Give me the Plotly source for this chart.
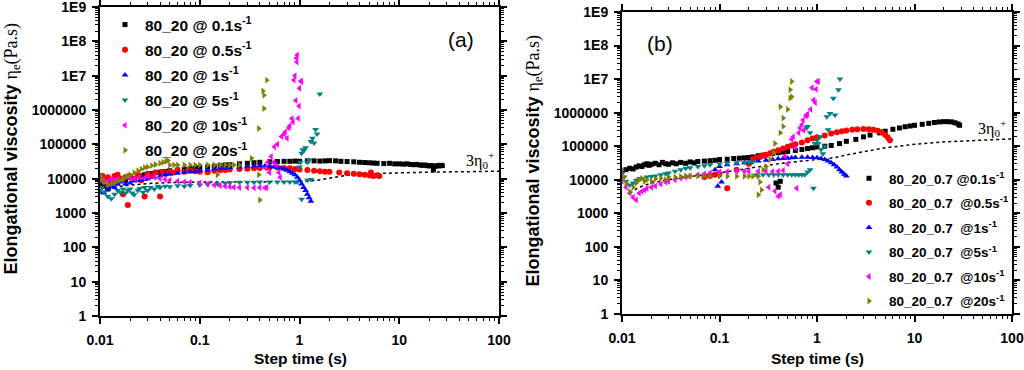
import plotly.graph_objects as go

# ---------------- Panel (a): 80_20 ----------------
A01_T = [0.0100,0.0105,0.011,0.012,0.013,0.014,0.015,0.016,0.018,0.02,0.022,0.025,0.028,0.03,0.033,0.036,0.04,0.045,0.05,0.06,0.07,0.08,0.09,0.1,0.12,0.14,0.16,0.18,0.2,0.25,0.3,0.35,0.4,0.5,0.6,0.7,0.8,0.9,1.0,1.2,1.4,1.6,1.8,2.0,2.3,2.6,3.0,3.5,4.0,4.5,5.0,5.5,6.0,7.0,8.0,9.0,10,11,12,13,14,15,16,17,18,19,20,21,22,23,24,25,26,27]
A01_E = [7000,12000,6000,5000,8000,9000,7500,10000,9000,11000,10000,12000,13000,12500,14000,15000,15500,16000,17000,18000,19000,19500,20000,21000,22000,23000,24000,25000,25500,27000,28000,29000,30000,31000,31500,32000,32000,32500,32000,33000,33000,32500,33000,33500,33000,32000,31500,31000,30000,29500,29000,28500,28000,27500,28000,27000,27000,26500,27000,26000,25500,26000,25000,24500,25000,24000,23500,24000,18000,23000,24000,23500,24500,24000]

A05_T = [0.0100,0.0105,0.011,0.012,0.013,0.014,0.015,0.016,0.017,0.018,0.019,0.02,0.022,0.024,0.026,0.028,0.03,0.033,0.036,0.04,0.042,0.045,0.05,0.055,0.06,0.07,0.08,0.09,0.1,0.12,0.14,0.16,0.18,0.2,0.25,0.3,0.35,0.4,0.5,0.6,0.7,0.8,0.9,1.0,1.2,1.4,1.6,1.8,2.0,2.5,3.0,3.5,4.0,4.5,5.0,5.2,5.5,6.0,6.3]
A05_E = [11000,12000,9000,11000,7000,12000,13000,10000,3500,11000,1700,12000,10000,13000,9000,3000,14000,12000,15000,3000,16000,14000,16000,15000,17000,16000,17000,16500,16000,15500,17000,17500,18000,18500,19000,19500,20000,20500,21000,21000,20500,20000,19000,18500,18000,17000,16500,16000,16000,15000,14500,14000,13500,13000,12500,15000,12000,12500,12000]

A1_T = [0.01,0.011,0.012,0.013,0.014,0.015,0.016,0.018,0.02,0.022,0.025,0.028,0.03,0.035,0.04,0.045,0.05,0.06,0.07,0.08,0.09,0.1,0.12,0.14,0.16,0.18,0.2,0.25,0.3,0.35,0.4,0.45,0.5,0.55,0.6,0.65,0.7,0.75,0.8,0.85,0.9,0.95,1.0,1.05,1.1,1.15,1.2,1.25,1.3]
A1_E = [4000,3800,5000,6000,5500,7000,8000,7000,7500,8500,9000,9500,10000,11000,12000,13000,13500,14500,15500,16000,16500,17000,18000,19000,20000,20500,21000,22000,23000,23500,24000,23500,23000,22000,21000,20000,19000,17500,16000,14500,13000,11000,9000,7000,5500,4500,3500,2800,2200]

A5_T = [0.01,0.0105,0.011,0.012,0.013,0.014,0.015,0.016,0.017,0.018,0.019,0.02,0.021,0.022,0.024,0.025,0.027,0.028,0.03,0.032,0.035,0.038,0.04,0.045,0.05,0.06,0.07,0.08,0.1,0.12,0.15,0.18,0.2,0.25,0.3,0.35,0.4,0.5,0.6,0.7,0.8,0.9,0.95,1.0,1.02,1.05,1.08,1.1,1.15,1.2,1.25,1.3,1.35,1.4,1.45,1.5,1.6,1.05,1.2,1.3]
A5_E = [4500,5500,4000,3000,2600,3500,4500,4000,5000,3800,4500,5000,3800,3400,4500,5200,4000,5500,4500,5500,5000,6000,5500,6000,5800,6200,6000,6300,6500,6800,7000,7300,7600,7800,7800,7900,8000,8000,8000,8000,8000,8000,8000,22000,30000,55000,70000,65000,80000,30000,35000,120000,150000,110000,270000,200000,2900000,2500,9000,9500]

A10_T = [0.01,0.011,0.012,0.013,0.014,0.015,0.017,0.02,0.022,0.025,0.028,0.03,0.035,0.04,0.045,0.05,0.06,0.07,0.08,0.1,0.12,0.14,0.16,0.18,0.2,0.22,0.25,0.3,0.35,0.4,0.45,0.47,0.46,0.48,0.5,0.52,0.55,0.56,0.58,0.6,0.62,0.64,0.66,0.7,0.72,0.75,0.78,0.8,0.84,0.86,0.88,0.9,0.92,0.93,0.94,0.95,0.97,0.99,1.0,1.03,1.05]
A10_E = [9000,8000,8500,9500,9000,10000,9500,10500,10000,11000,10500,12000,11000,10000,9500,9000,8500,8000,7800,7500,7000,6500,6200,6000,5800,5600,5500,5500,5400,5500,5400,5500,20000,30000,15000,44000,30000,85000,25000,100000,15000,11000,170000,200000,230000,150000,300000,350000,570000,450000,7500000,10000000,1900000,32000000,25000000,40000000,570000,1300000,4300000,7000000,6600000]

A20_T = [0.01,0.0105,0.011,0.012,0.013,0.014,0.015,0.016,0.017,0.018,0.019,0.02,0.022,0.024,0.026,0.028,0.03,0.033,0.036,0.04,0.043,0.046,0.048,0.05,0.055,0.06,0.07,0.08,0.09,0.1,0.12,0.14,0.16,0.18,0.2,0.22,0.25,0.15,0.33,0.39,0.39,0.40,0.44,0.44,0.43,0.47]
A20_E = [13000,10000,8000,6500,7000,7500,8500,9000,10000,11000,12000,13000,15000,17000,19000,21000,22000,24000,26000,28000,30000,32000,34000,25000,25000,25000,25000,25000,25000,25000,25000,25000,25000,25000,25000,25000,25000,13000,39000,13000,290000,2400,1100000,2700000,3600000,7400000]

A_ENV_T = [0.012,0.015,0.02,0.03,0.05,0.1,0.3,1,1.5,2,3,5,10,20,50,100]
A_ENV_E = [5000,5800,6500,7200,7700,8000,8000,8200,9000,10500,12500,14000,15000,15500,16000,16500]

# ---------------- Panel (b): 80_20_0.7 ----------------
B01_T = [0.01,0.011,0.012,0.013,0.014,0.015,0.016,0.017,0.018,0.019,0.02,0.022,0.024,0.026,0.028,0.03,0.033,0.036,0.04,0.045,0.05,0.055,0.06,0.07,0.08,0.09,0.1,0.12,0.14,0.16,0.18,0.2,0.22,0.25,0.28,0.3,0.35,0.4,0.45,0.5,0.6,0.7,0.8,0.9,1.0,1.2,1.4,1.7,2.0,2.5,3.0,3.5,4.4,5.0,6.0,7.0,8.0,9.0,10,12,14,16,18,20,22,24,26,28,29,0.38,0.40,0.42]
B01_E = [18000,20000,22000,21000,24000,26000,25000,28000,30000,27000,29000,31000,28000,33000,30000,29000,32000,30000,33000,31000,34000,32000,35000,36000,37000,38000,40000,41000,43000,44000,45000,46000,48000,52000,54000,56000,60000,64000,67000,70000,75000,80000,85000,90000,95000,100000,105000,120000,140000,160000,190000,215000,250000,280000,320000,350000,380000,400000,420000,450000,480000,510000,530000,540000,540000,530000,500000,460000,420000,8000,6000,9000]

B05_T = [0.07,0.08,0.09,0.1,0.12,0.15,0.2,0.22,0.24,0.26,0.28,0.3,0.33,0.36,0.4,0.45,0.5,0.55,0.6,0.7,0.8,0.9,1.0,1.2,1.4,1.6,1.8,2.0,2.3,2.6,3.0,3.4,3.8,4.2,4.6,5.0,5.3,5.6]
B05_E = [12000,13000,14000,15000,5600,20000,30000,42000,45000,48000,52000,56000,62000,68000,76000,86000,96000,105000,115000,130000,150000,170000,185000,210000,240000,260000,280000,295000,310000,320000,325000,320000,310000,290000,260000,220000,185000,150000]

B1_T = [0.09,0.096,0.1,0.105,0.12,0.15,0.18,0.2,0.25,0.3,0.35,0.4,0.45,0.5,0.55,0.6,0.7,0.8,0.9,1.0,1.1,1.2,1.3,1.4,1.5,1.6,1.7,1.8,1.9,2.0]
B1_E = [20000,6400,25000,8600,28000,30000,32000,33000,36000,38000,40000,42000,43000,44000,45000,46000,47000,47000,46000,45000,43000,40000,36000,32000,28000,24000,20000,17000,14500,13000]

B5_T = [0.01,0.0105,0.011,0.012,0.013,0.014,0.015,0.016,0.018,0.02,0.022,0.025,0.028,0.03,0.035,0.04,0.045,0.05,0.06,0.07,0.08,0.1,0.12,0.15,0.18,0.2,0.22,0.24,0.28,0.32,0.36,0.4,0.45,0.5,0.55,0.6,0.65,0.7,0.75,0.8,0.85,0.92,0.78,0.8,0.85,0.95,1.0,1.03,1.08,1.1,1.15,1.2,1.26,1.3,1.36,1.47,1.53,1.66,1.72]
B5_E = [16000,12000,9000,7000,8000,9500,10500,11000,12000,12500,13000,14000,15000,16000,18000,20000,22000,23000,25000,26000,28000,30000,31000,32000,33000,34000,34000,14000,14000,14000,14000,14000,14000,14000,14000,14000,14000,14000,14000,17000,20000,5600,350000,390000,250000,120000,150000,120000,190000,80000,60000,100000,760000,310000,950000,2700000,850000,4800000,10000000]

B10_T = [0.01,0.011,0.012,0.013,0.014,0.015,0.016,0.017,0.018,0.02,0.022,0.025,0.028,0.03,0.035,0.04,0.045,0.05,0.06,0.07,0.08,0.1,0.12,0.15,0.18,0.2,0.25,0.3,0.35,0.4,0.45,0.32,0.37,0.4,0.42,0.47,0.5,0.55,0.57,0.6,0.62,0.65,0.67,0.7,0.72,0.73,0.77,0.78,0.8,0.86,0.89,0.92,0.96,0.98,1.0,1.03]
B10_E = [9000,6000,4000,3000,2500,4000,4500,5000,5500,6000,6500,7500,8500,9000,10000,11000,12000,13000,14000,15000,16000,17000,17500,18000,18000,18000,18000,18000,17500,18000,19000,6000,4600,3200,3600,50000,30000,160000,190000,90000,5600,250000,350000,440000,600000,300000,790000,850000,900000,1250000,5500000,2400000,2000000,5000000,8500000,8500000]

B20_T = [0.01,0.0105,0.011,0.012,0.013,0.014,0.015,0.016,0.017,0.018,0.02,0.022,0.025,0.028,0.03,0.035,0.04,0.045,0.05,0.06,0.07,0.08,0.1,0.12,0.15,0.18,0.2,0.22,0.25,0.25,0.26,0.27,0.28,0.3,0.33,0.36,0.37,0.42,0.45,0.42,0.45,0.5,0.53,0.53,0.55,0.55]
B20_E = [20000,12000,8000,4500,6000,8000,10000,11000,9000,10000,9000,10500,11000,10000,12000,12000,12500,13000,13000,13000,13000,12800,12800,12800,12800,12800,12800,12800,12800,3600,8600,5000,20000,25000,40000,63000,120000,250000,390000,1500000,690000,1250000,2700000,4800000,8500000,3000000]

B_ENV_T = [0.012,0.015,0.02,0.03,0.05,0.1,0.2,0.4,0.7,1,1.5,2,3,5,7,10,20,50,100]
B_ENV_E = [4000,6000,8000,10000,12500,16000,22000,30000,36000,40000,45000,55000,70000,90000,100000,115000,135000,155000,165000]

RATES_A = ["0.1", "0.5", "1", "5", "10", "20"]
LABELS_A = ["80_20 @ %ss<sup>-1</sup>" % r for r in RATES_A]
LABELS_B = ["80_20_0.7 @0.1s<sup>-1</sup>", "80_20_0.7 &nbsp;@0.5s<sup>-1</sup>", "80_20_0.7 &nbsp;@1s<sup>-1</sup>",
            "80_20_0.7 &nbsp;@5s<sup>-1</sup>", "80_20_0.7 &nbsp;@10s<sup>-1</sup>", "80_20_0.7 &nbsp;@20s<sup>-1</sup>"]

X_TICKS = [0.01, 0.1, 1, 10, 100]
X_TICKTEXT = ["0.01", "0.1", "1", "10", "100"]
Y_TICKS = [1, 10, 100, 1000, 10000, 100000, 1000000, 1e7, 1e8, 1e9]
Y_TICKTEXT = ["1", "10", "100", "1000", "10000", "100000", "1000000", "1E7", "1E8", "1E9"]

COLORS = ["#000000", "#ff0000", "#0000ff", "#008080", "#ff00ff", "#808000"]
SYMBOLS = ["square", "circle", "triangle-up", "triangle-down", "triangle-left", "triangle-right"]
SIZES = [5, 6, 6, 6, 6, 6]

FONT = "Liberation Sans"
SERIF = "Liberation Serif"

series_a = [(A01_T, A01_E), (A05_T, A05_E), (A1_T, A1_E), (A5_T, A5_E), (A10_T, A10_E), (A20_T, A20_E)]
series_b = [(B01_T, B01_E), (B05_T, B05_E), (B1_T, B1_E), (B5_T, B5_E), (B10_T, B10_E), (B20_T, B20_E)]

fig = go.Figure()

fig.add_trace(go.Scatter(x=A_ENV_T, y=A_ENV_E, mode="lines", line=dict(color="black", width=1.5, dash="dot"),
                         showlegend=False, xaxis="x", yaxis="y"))
fig.add_trace(go.Scatter(x=B_ENV_T, y=B_ENV_E, mode="lines", line=dict(color="black", width=1.5, dash="dot"),
                         showlegend=False, xaxis="x2", yaxis="y2"))

for i, (t, e) in enumerate(series_a):
    fig.add_trace(go.Scatter(x=t, y=e, mode="markers", name=LABELS_A[i], legendgroup="a%d" % i,
                             marker=dict(color=COLORS[i], symbol=SYMBOLS[i], size=SIZES[i], line=dict(width=0)),
                             xaxis="x", yaxis="y", legend="legend"))
for i, (t, e) in enumerate(series_b):
    fig.add_trace(go.Scatter(x=t, y=e, mode="markers", name=LABELS_B[i], legendgroup="b%d" % i,
                             marker=dict(color=COLORS[i], symbol=SYMBOLS[i], size=SIZES[i], line=dict(width=0)),
                             xaxis="x2", yaxis="y2", legend="legend2"))

minor_x = [m * 10 ** k for k in range(-2, 2) for m in range(2, 10)]
minor_y = [m * 10 ** k for k in range(0, 9) for m in range(2, 10)]

def xaxis_def(domain, anchor):
    return dict(type="log", range=[-2, 2], domain=domain, anchor=anchor,
                tickmode="array", tickvals=X_TICKS, ticktext=X_TICKTEXT,
                ticks="outside", ticklen=6, tickwidth=1.5, tickcolor="black", ticklabelstandoff=4,
                ticklabeloverflow="allow",
                minor=dict(tickmode="array", tickvals=minor_x, ticks="outside", ticklen=3, tickwidth=1, tickcolor="black", showgrid=False),
                showline=True, linewidth=2, linecolor="black", mirror="ticks", showgrid=False, zeroline=False,
                tickfont=dict(family=FONT, size=14, color="black", weight="bold"))

def yaxis_def(domain, anchor):
    return dict(type="log", range=[0, 9], domain=domain, anchor=anchor,
                tickmode="array", tickvals=Y_TICKS, ticktext=Y_TICKTEXT,
                ticks="outside", ticklen=6, tickwidth=1.5, tickcolor="black", ticklabelstandoff=3,
                ticklabeloverflow="allow",
                minor=dict(tickmode="array", tickvals=minor_y, ticks="outside", ticklen=3, tickwidth=1, tickcolor="black", showgrid=False),
                showline=True, linewidth=2, linecolor="black", mirror="ticks", showgrid=False, zeroline=False,
                tickfont=dict(family=FONT, size=14, color="black", weight="bold"))

W, H = 1024, 370
legend_common = dict(bgcolor="rgba(0,0,0,0)", borderwidth=0, traceorder="grouped",
                     itemsizing="trace", xanchor="left", yanchor="top")

ytitle = '<b>Elongational viscosity </b><span style="font-family:Liberation Serif">η<sub>e</sub>(Pa.s)</span>'

fig.update_layout(
    width=W, height=H, autosize=False,
    margin=dict(l=0, r=0, t=0, b=0, autoexpand=False),
    paper_bgcolor="white", plot_bgcolor="white",
    xaxis=xaxis_def([100 / W, 499 / W], "y"),
    yaxis=yaxis_def([1 - 316 / H, 1 - 7 / H], "x"),
    xaxis2=xaxis_def([622 / W, 1012 / W], "y2"),
    yaxis2=yaxis_def([1 - 314 / H, 1 - 12 / H], "x2"),
    legend=dict(x=105 / W, y=1 - 8 / H, tracegroupgap=2,
                font=dict(family=FONT, size=15.5, color="black", weight="bold"), **legend_common),
    legend2=dict(x=849 / W, y=1 - 163 / H, tracegroupgap=4,
                 font=dict(family=FONT, size=13.5, color="black", weight="bold"), **legend_common),
    annotations=[
        dict(text=ytitle, textangle=-90, x=-2 / W, y=1 - 277 / H, xref="paper", yref="paper", showarrow=False,
             xanchor="left", yanchor="bottom", font=dict(family=FONT, size=18, color="black")),
        dict(text=ytitle, textangle=-90, x=520 / W, y=1 - 289 / H, xref="paper", yref="paper", showarrow=False,
             xanchor="left", yanchor="bottom", font=dict(family=FONT, size=18, color="black")),
        dict(text="<b>Step time (s)</b>", x=300 / W, y=1 - 358 / H, xref="paper", yref="paper", showarrow=False,
             xanchor="center", yanchor="middle", font=dict(family=FONT, size=15.5, color="black")),
        dict(text="<b>Step time (s)</b>", x=817 / W, y=1 - 358 / H, xref="paper", yref="paper", showarrow=False,
             xanchor="center", yanchor="middle", font=dict(family=FONT, size=15.5, color="black")),
        dict(text="(a)", x=461 / W, y=1 - 39 / H, xref="paper", yref="paper", showarrow=False,
             xanchor="center", yanchor="middle", font=dict(family=FONT, size=21, color="black")),
        dict(text="(b)", x=660 / W, y=1 - 43 / H, xref="paper", yref="paper", showarrow=False,
             xanchor="center", yanchor="middle", font=dict(family=FONT, size=21, color="black")),
        dict(text="3η<sub>0</sub><sup>+</sup>", x=480 / W, y=1 - 160 / H, xref="paper", yref="paper", showarrow=False,
             xanchor="center", yanchor="middle", font=dict(family=SERIF, size=16, color="black")),
        dict(text="3η<sub>0</sub><sup>+</sup>", x=992 / W, y=1 - 128 / H, xref="paper", yref="paper", showarrow=False,
             xanchor="center", yanchor="middle", font=dict(family=SERIF, size=16, color="black")),
    ],
)

fig.write_html("out.html", config={"displayModeBar": False},
               post_script="document.body.style.margin='0';")
